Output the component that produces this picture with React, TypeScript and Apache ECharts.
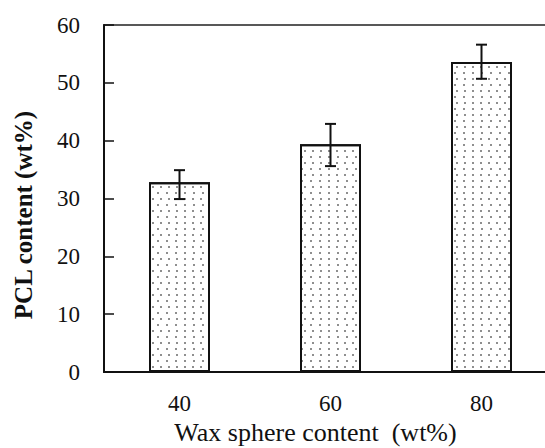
import React, { useEffect, useRef } from "react";
import * as echarts from "echarts";

const categories = ["40", "60", "80"];
const pclContent = [32.8, 39.4, 53.6];
const errLow = [29.9, 35.6, 50.7];
const errHigh = [34.9, 42.9, 56.6];
const yTicks = { min: 0, max: 60, interval: 10 };

const FONT = '"Times New Roman", "Liberation Serif", serif';

export default function App() {
  const ref = useRef<HTMLDivElement>(null);
  useEffect(() => {
    if (!ref.current) return;
    const chart = echarts.init(ref.current, null, { renderer: "svg" });
    const errData = categories.map((_, i) => [i, errLow[i], errHigh[i]]);
    chart.setOption({
      animation: false,
      backgroundColor: "#fff",
      grid: {
        left: 104,
        top: 25,
        bottom: 76,
        width: 453,
        show: true,
        borderColor: "#222",
        borderWidth: 1.5,
        outerBoundsMode: "none",
        containLabel: false,
      },
      xAxis: {
        type: "category",
        data: categories,
        boundaryGap: true,
        name: "Wax sphere content  (wt%)",
        nameLocation: "middle",
        nameGap: 47,
        nameTextStyle: { fontFamily: FONT, fontSize: 26, color: "#111", padding: [0, 30, 0, 0] },
        axisLine: { lineStyle: { color: "#111", width: 2 } },
        axisTick: { inside: true, alignWithLabel: true, length: 5, lineStyle: { color: "#111", width: 1.5 } },
        axisLabel: { fontFamily: FONT, fontSize: 23, color: "#111", margin: 20 },
        splitLine: { show: false },
      },
      yAxis: {
        type: "value",
        min: yTicks.min,
        max: yTicks.max,
        interval: yTicks.interval,
        name: "PCL content (wt%)",
        nameLocation: "middle",
        nameGap: 68,
        nameTextStyle: {
          fontFamily: FONT,
          fontSize: 25,
          fontWeight: "bold",
          color: "#111",
          padding: [0, 33, 0, 0],
        },
        axisLine: { show: true, lineStyle: { color: "#111", width: 2 } },
        axisTick: { show: true, inside: true, length: 10, lineStyle: { color: "#111", width: 1.5 } },
        axisLabel: { fontFamily: FONT, fontSize: 23, color: "#111", margin: 24 },
        splitLine: { show: false },
      },
      series: [
        {
          type: "bar",
          data: pclContent,
          barWidth: 61,
          itemStyle: {
            color: "#fff",
            borderColor: "#111",
            borderWidth: 2,
            decal: {
              symbol: "rect",
              symbolSize: 1,
              color: "#8f8f8f",
              dashArrayX: [[1.4, 5.8], [0, 3.6, 1.4, 2.2]],
              dashArrayY: [1.4, 3.4],
              rotation: 0,
            },
          },
          z: 2,
        },
        {
          type: "custom",
          data: errData,
          z: 5,
          renderItem: (params: any, api: any) => {
            const x = api.value(0);
            const lo = api.coord([x, api.value(1)]);
            const hi = api.coord([x, api.value(2)]);
            const w = 5.5;
            const style = { stroke: "#111", lineWidth: 2 };
            return {
              type: "group",
              children: [
                { type: "line", shape: { x1: lo[0], y1: lo[1], x2: hi[0], y2: hi[1] }, style },
                { type: "line", shape: { x1: hi[0] - w, y1: hi[1], x2: hi[0] + w, y2: hi[1] }, style },
                { type: "line", shape: { x1: lo[0] - w, y1: lo[1], x2: lo[0] + w, y2: lo[1] }, style },
              ],
            };
          },
        },
      ],
    });
    return () => chart.dispose();
  }, []);
  return (
    <div
      ref={ref}
      style={{ position: "fixed", left: 0, top: 0, width: 545, height: 448 }}
    />
  );
}
